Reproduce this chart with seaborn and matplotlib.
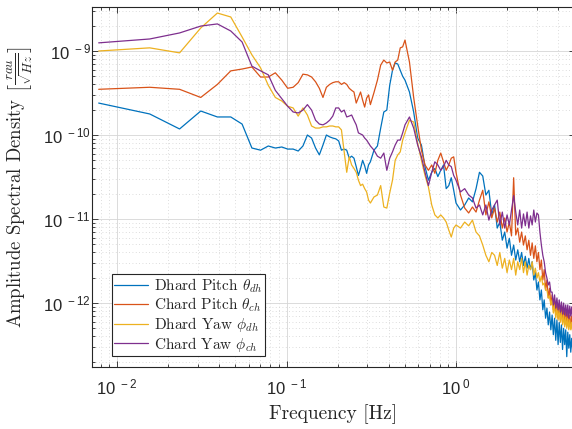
import pandas as pd
import numpy as np
import matplotlib
matplotlib.use("Agg")
import matplotlib.pyplot as plt
from matplotlib.ticker import FuncFormatter
import seaborn as sns

# Frecuencias (Hz)
freq = [0.0078, 0.0156, 0.0234, 0.0312, 0.0391, 0.0469, 0.0547, 0.0625, 0.0703, 0.0781,
        0.0859, 0.0938, 0.1016, 0.1094, 0.1172, 0.125, 0.1328, 0.1406, 0.1484, 0.1562,
        0.1641, 0.1719, 0.1797, 0.1875, 0.1953, 0.2031, 0.2109, 0.2188, 0.2266, 0.2344,
        0.2422, 0.25, 0.2578, 0.2656, 0.2734, 0.2812, 0.2891, 0.2969, 0.3047, 0.3125,
        0.3281, 0.3438, 0.3594, 0.375, 0.3906, 0.4062, 0.4219, 0.4375, 0.4531, 0.4688, 0.4844, 0.5,
        0.5312, 0.5625, 0.5938, 0.625, 0.6562, 0.6875, 0.7188, 0.75, 0.7812, 0.8125, 0.8438, 0.875,
        0.9062, 0.9375, 0.9688, 1.0,
        1.0625, 1.125, 1.1875, 1.25, 1.3125, 1.375, 1.4375, 1.5, 1.5625, 1.625, 1.6875, 1.75,
        1.8125, 1.875, 1.9375, 2.0,
        2.0625, 2.125, 2.1875, 2.25, 2.3125, 2.375, 2.4375, 2.5, 2.5625, 2.625, 2.6875, 2.75,
        2.8125, 2.875, 2.9375, 3.0,
        3.0625, 3.125, 3.1875, 3.25, 3.3125, 3.375, 3.4375, 3.5, 3.5625, 3.625, 3.6875, 3.75,
        3.8125, 3.875, 3.9375, 4.0,
        4.0625, 4.125, 4.1875, 4.25, 4.3125, 4.375, 4.4375, 4.5, 4.5625, 4.625, 4.6875, 4.75,
        4.8125, 4.875, 4.9375, 5.0]

# ASD de cada canal
dhard_pitch = [2.4e-10, 1.78e-10, 1.18e-10, 1.93e-10, 1.64e-10, 1.64e-10, 1.35e-10, 7.0e-11, 6.6e-11, 7.4e-11,
               7.0e-11, 7.2e-11, 6.8e-11, 6.8e-11, 6.45e-11, 7.4e-11, 1.0e-10, 9.2e-11, 7.0e-11, 5.8e-11,
               7.6e-11, 1.0e-10, 9.5e-11, 9.2e-11, 9.0e-11, 8.5e-11, 6.6e-11, 6.8e-11, 6.6e-11, 5.3e-11,
               5.6e-11, 5.3e-11, 4.2e-11, 3.3e-11, 4.0e-11, 5.0e-11, 4.3e-11, 3.5e-11, 4.4e-11, 4.8e-11,
               6.6e-11, 7.4e-11, 1.21e-10, 1.88e-10, 1.98e-10, 3.9e-10, 5.9e-10, 7.2e-10, 7.0e-10, 5.9e-10, 5.0e-10, 4.5e-10,
               3.25e-10, 1.88e-10, 9.2e-11, 7.6e-11, 4.2e-11, 2.9e-11, 3.6e-11, 4.0e-11, 3.2e-11, 3.8e-11, 4.4e-11, 2.3e-11,
               2.5e-11, 3.1e-11, 2.2e-11, 1.55e-11,
               1.28e-11, 1.47e-11, 1.78e-11, 1.6e-11, 2.3e-11, 3.6e-11, 3.25e-11, 1.93e-11, 2.2e-11, 1.12e-11, 1.47e-11, 7.8e-12,
               9.2e-12, 5.6e-12, 7.0e-12, 4.5e-12,
               5.9e-12, 3.7e-12, 4.9e-12, 3.25e-12, 4.3e-12, 3.1e-12, 4.0e-12, 2.8e-12, 3.6e-12, 2.6e-12, 3.4e-12, 2.5e-12,
               3.1e-12, 1.88e-12, 2.3e-12, 1.43e-12,
               1.78e-12, 1.09e-12, 1.43e-12, 8.3e-13, 1.09e-12, 6.6e-13, 8.7e-13, 5.5e-13, 7.8e-13, 4.8e-13, 7.2e-13, 4.2e-13,
               6.6e-13, 3.6e-13, 6.3e-13, 3.2e-13,
               5.9e-13, 3.4e-13, 5.5e-13, 2.8e-13, 5.0e-13, 3.2e-13, 4.8e-13, 2.3e-13, 4.5e-13, 2.9e-13, 4.2e-13, 2.6e-13,
               3.8e-13, 2.8e-13, 3.6e-13, 3.2e-13]

chard_pitch = [3.5e-10, 3.7e-10, 3.5e-10, 2.8e-10, 4.0e-10, 5.8e-10, 6.1e-10, 6.45e-10, 4.9e-10, 4.9e-10,
               5.5e-10, 4.5e-10, 3.6e-10, 3.7e-10, 4.2e-10, 5.3e-10, 5.2e-10, 4.9e-10, 4.3e-10, 3.6e-10,
               2.8e-10, 3.7e-10, 4.0e-10, 4.2e-10, 4.3e-10, 4.3e-10, 4.0e-10, 4.2e-10, 4.0e-10, 3.6e-10,
               3.4e-10, 3.25e-10, 2.4e-10, 2.8e-10, 3.25e-10, 2.6e-10, 2.15e-10, 2.75e-10, 3.0e-10, 2.3e-10,
               3.2e-10, 4.5e-10, 6.8e-10, 7.8e-10, 7.2e-10, 7.4e-10, 5.9e-10, 7.4e-10, 7.8e-10, 1.09e-9, 1.12e-9, 1.35e-9,
               7.4e-10, 2.8e-10, 1.3e-10, 6.6e-11, 4.4e-11, 3.8e-11, 4.4e-11, 3.5e-11, 5.0e-11, 6.1e-11, 4.8e-11, 3.8e-11,
               4.4e-11, 5.3e-11, 5.5e-11, 3.6e-11,
               1.93e-11, 1.35e-11, 1.18e-11, 1.39e-11, 1.21e-11, 1.68e-11, 2.2e-11, 1.12e-11, 1.6e-11, 1.03e-11, 1.35e-11, 9.2e-12,
               1.21e-11, 7.8e-12, 1.03e-11, 7.0e-12,
               9.2e-12, 6.3e-12, 3.1e-11, 6.45e-12, 7.8e-12, 5.3e-12, 7.0e-12, 4.9e-12, 6.3e-12, 4.3e-12, 5.6e-12, 3.7e-12,
               5.2e-12, 3.4e-12, 4.8e-12, 3.1e-12,
               4.0e-12, 2.5e-12, 3.25e-12, 1.88e-12, 2.5e-12, 1.43e-12, 1.88e-12, 1.15e-12, 1.5e-12, 9.5e-13, 1.25e-12, 8.3e-13,
               1.09e-12, 7.2e-13, 1.0e-12, 6.6e-13,
               9.5e-13, 6.3e-13, 9.0e-13, 5.9e-13, 8.3e-13, 5.5e-13, 7.8e-13, 5.3e-13, 7.6e-13, 5.2e-13, 7.2e-13, 5.0e-13,
               7.0e-13, 5.5e-13, 6.6e-13, 5.9e-13]

dhard_yaw = [1.0e-9, 1.09e-9, 9.5e-10, 1.88e-9, 2.83e-9, 2.54e-9, 1.47e-9, 9.0e-10, 6.3e-10, 3.9e-10,
             2.8e-10, 2.54e-10, 2.2e-10, 2.1e-10, 1.68e-10, 2.1e-10, 1.73e-10, 1.28e-10, 1.21e-10, 1.21e-10,
             1.25e-10, 1.25e-10, 1.28e-10, 1.28e-10, 1.25e-10, 1.25e-10, 1.15e-10, 6.3e-11, 3.6e-11, 5.5e-11,
             4.4e-11, 4.0e-11, 3.6e-11, 2.9e-11, 2.5e-11, 2.6e-11, 2.3e-11, 2.1e-11, 1.68e-11, 1.55e-11,
             1.83e-11, 1.93e-11, 2.5e-11, 1.39e-11, 1.35e-11, 2.04e-11, 2.9e-11, 5.0e-11, 5.8e-11, 6.3e-11, 8.7e-11, 1.06e-10,
             1.5e-10, 1.43e-10, 8.0e-11, 5.0e-11, 3.3e-11, 2.4e-11, 1.47e-11, 1.12e-11, 1.03e-11, 1.12e-11, 1.03e-11, 9.2e-12,
             7.4e-12, 6.1e-12, 7.8e-12, 8.5e-12,
             7.8e-12, 9.2e-12, 8.3e-12, 9.7e-12, 7.0e-12, 6.3e-12, 4.9e-12, 3.7e-12, 3.1e-12, 4.0e-12, 3.7e-12, 2.8e-12,
             4.0e-12, 2.6e-12, 3.4e-12, 2.3e-12,
             3.25e-12, 2.5e-12, 3.4e-12, 2.15e-12, 3.1e-12, 2.5e-12, 3.4e-12, 2.3e-12, 3.1e-12, 2.15e-12, 2.8e-12, 2.5e-12,
             3.1e-12, 2.15e-12, 2.6e-12, 1.98e-12,
             2.3e-12, 1.78e-12, 2.1e-12, 1.64e-12, 1.73e-12, 1.43e-12, 1.43e-12, 1.15e-12, 1.21e-12, 9.5e-13, 1.09e-12, 7.6e-13,
             9.5e-13, 6.6e-13, 8.7e-13, 6.3e-13,
             8.3e-13, 5.9e-13, 7.8e-13, 5.5e-13, 7.2e-13, 5.2e-13, 6.8e-13, 5.0e-13, 6.6e-13, 4.8e-13, 6.3e-13, 4.8e-13,
             5.9e-13, 4.5e-13, 5.9e-13, 5.0e-13]

chard_yaw = [1.25e-9, 1.39e-9, 1.64e-9, 1.98e-9, 2.1e-9, 1.73e-9, 1.28e-9, 6.6e-10, 5.8e-10, 5.2e-10,
             3.4e-10, 2.7e-10, 2.2e-10, 1.88e-10, 1.83e-10, 1.98e-10, 2.3e-10, 1.98e-10, 1.5e-10, 1.35e-10,
             1.32e-10, 1.39e-10, 1.5e-10, 1.68e-10, 2.1e-10, 2.1e-10, 1.88e-10, 1.98e-10, 1.64e-10, 1.68e-10,
             1.73e-10, 1.5e-10, 1.32e-10, 1.06e-10, 1.03e-10, 1.0e-10, 9.2e-11, 8.7e-11, 8.0e-11, 7.4e-11,
             6.6e-11, 5.6e-11, 5.3e-11, 6.1e-11, 3.8e-11, 5.3e-11, 6.3e-11, 7.6e-11, 8.7e-11, 8.7e-11, 1.06e-10, 1.32e-10,
             1.64e-10, 1.21e-10, 7.6e-11, 5.5e-11, 3.6e-11, 2.5e-11, 3.6e-11, 4.8e-11, 4.4e-11, 3.8e-11, 4.2e-11, 5.0e-11,
             4.4e-11, 4.2e-11, 3.3e-11, 2.9e-11,
             2.1e-11, 2.3e-11, 1.93e-11, 1.78e-11, 1.35e-11, 1.47e-11, 1.12e-11, 1.47e-11, 9.7e-12, 1.28e-11, 1.47e-11, 1.68e-11,
             8.5e-12, 1.21e-11, 7.8e-12, 1.12e-11,
             8.5e-12, 1.28e-11, 1.9e-11, 1.21e-11, 8.5e-12, 1.28e-11, 7.8e-12, 1.15e-11, 8.3e-12, 1.21e-11, 7.8e-12, 1.09e-11,
             8.5e-12, 1.28e-11, 9.2e-12, 1.18e-11,
             1.12e-11, 7.0e-12, 4.9e-12, 3.7e-12, 3.1e-12, 2.3e-12, 1.98e-12, 1.64e-12, 1.78e-12, 1.35e-12, 1.35e-12, 9.5e-13,
             1.25e-12, 8.7e-13, 1.15e-12, 8.3e-13,
             1.09e-12, 7.8e-13, 1.03e-12, 7.4e-13, 1.0e-12, 7.2e-13, 9.5e-13, 7.0e-13, 9.5e-13, 6.6e-13, 9.2e-13, 7.0e-13,
             9.0e-13, 6.6e-13, 8.7e-13, 7.8e-13]

etiquetas = [r"Dhard Pitch $\theta_{dh}$", r"Chard Pitch $\theta_{ch}$",
             r"Dhard Yaw $\phi_{dh}$", r"Chard Yaw $\phi_{ch}$"]
colores = ["#0072BD", "#D95319", "#EDB120", "#7E2F8E"]

# Tabla larga para seaborn
series = [dhard_pitch, chard_pitch, dhard_yaw, chard_yaw]
data = pd.concat([pd.DataFrame({"freq": freq, "asd": s, "canal": lab})
                  for s, lab in zip(series, etiquetas)], ignore_index=True)

sns.set_style("ticks")
plt.rcParams["font.family"] = ["Liberation Sans", "DejaVu Sans"]
plt.rcParams["mathtext.fontset"] = "dejavusans"

fig = plt.figure(figsize=(5.72, 4.29), dpi=100)
ax = fig.add_axes([0.1608, 0.1434, 0.8436, 0.8403])

sns.lineplot(data=data, x="freq", y="asd", hue="canal", hue_order=etiquetas,
             palette=colores, estimator=None, sort=False, linewidth=0.9, ax=ax)
ax.set_xscale("log")
ax.set_yscale("log")
ax.set_xlim(0.00712, 5.0)
ax.set_ylim(1.71e-13, 3.34e-9)

# Etiquetas de potencias de 10 como en MATLAB
pot10 = FuncFormatter(lambda v, p: r"$\mathdefault{10^{\;%d}}$" % round(np.log10(v)))
ax.xaxis.set_major_formatter(pot10)
ax.yaxis.set_major_formatter(pot10)

# Rejilla estilo MATLAB
ax.grid(which="major", color="#d6d6d6", linewidth=0.6, linestyle="-")
ax.grid(which="minor", color="#d2d2d2", linewidth=0.6, linestyle=(0, (1, 3)))
ax.set_axisbelow(True)
ax.tick_params(which="both", direction="in", top=True, right=True, color="#262626", width=0.6)
ax.tick_params(which="major", length=4, labelsize=12)
ax.tick_params(axis="y", which="major", pad=1)
ax.tick_params(axis="x", which="major", pad=7)
ax.tick_params(which="minor", length=2)
for sp in ax.spines.values():
    sp.set_color("#262626")
    sp.set_linewidth(0.8)

ax.set_xlabel("Frequency [Hz]", fontfamily="cmr10", fontsize=14, labelpad=5,
              math_fontfamily="cm")
ax.set_ylabel(r"Amplitude Spectral Density $\left[\frac{rau}{\sqrt{Hz}}\right]$",
              fontfamily="cmr10", fontsize=13.5, labelpad=6, math_fontfamily="cm")

leg = ax.get_legend()
handles = leg.legend_handles
labels = [t.get_text() for t in leg.get_texts()]
ax.legend(handles, labels, loc="lower left", bbox_to_anchor=(0.0415, 0.032), borderaxespad=0,
          prop={"family": "cmr10", "size": 11}, frameon=True, fancybox=False,
          edgecolor="#262626", framealpha=1, handlelength=2.2, borderpad=0.15,
          labelspacing=0.05, handletextpad=0.4)
ax.get_legend().get_frame().set_linewidth(0.8)
for t in ax.get_legend().get_texts():
    t.set_math_fontfamily("cm")

plt.savefig("out.png", dpi=100)
